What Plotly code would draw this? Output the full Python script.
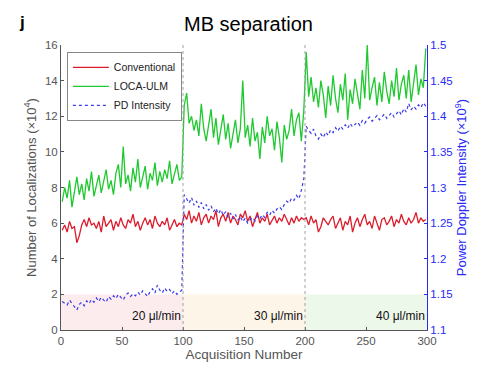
import plotly.graph_objects as go

acq = list(range(1, 300, 2))

conventional = [
    5.6,5.9,5.5,6.1,5.7,5.8,4.9,5.3,5.9,6.2,
    5.8,6.3,5.9,6.0,5.7,6.1,5.5,6.4,5.8,6.0,
    6.2,5.6,6.1,5.8,6.3,5.9,5.7,6.2,6.0,6.5,
    5.8,6.1,5.6,6.0,6.3,5.9,6.2,5.7,6.4,6.0,
    5.8,6.1,5.9,6.3,5.6,5.9,6.2,5.8,6.0,5.9,
    6.5,6.2,6.7,6.0,6.4,6.1,6.6,5.9,6.3,6.5,
    6.0,6.4,6.2,6.7,5.8,6.3,6.5,6.1,6.6,6.0,
    6.4,6.2,5.9,6.5,6.3,6.7,6.1,6.4,5.8,6.2,
    6.6,6.0,6.3,6.1,6.5,5.9,6.2,6.4,6.0,6.3,
    6.1,6.5,6.2,5.9,6.3,6.0,6.4,6.1,6.3,6.2,
    6.3,5.9,6.4,6.0,6.2,5.5,5.8,6.3,6.1,5.9,
    6.2,6.4,5.7,6.0,6.3,5.6,6.1,5.9,6.4,5.5,
    6.0,6.3,5.8,6.2,6.5,5.9,6.1,5.7,6.4,6.0,
    5.6,6.2,6.3,5.9,6.1,6.4,5.8,6.2,6.0,6.5,
    6.1,5.9,6.3,6.0,6.2,6.6,6.0,6.3,6.1,6.2,
]

loca_ulm = [
    7.2,8.0,7.4,8.4,6.9,7.8,8.6,7.6,8.2,7.3,
    8.5,7.8,8.9,7.5,8.1,8.7,7.7,8.3,9.0,7.9,
    8.4,7.6,8.8,9.3,8.0,10.3,8.2,8.7,7.8,9.1,
    8.3,9.6,8.0,8.6,9.2,7.9,8.8,8.4,9.4,8.1,
    8.9,8.3,9.0,8.5,9.5,8.2,8.8,9.3,8.4,8.6,
    12.6,13.3,11.6,12.0,11.2,11.8,10.9,12.7,11.3,10.6,
    11.5,12.4,10.8,11.9,10.4,11.2,12.1,10.7,11.6,10.2,
    11.0,11.8,10.5,11.3,14.0,10.8,11.5,10.3,11.9,10.6,
    11.1,9.6,11.4,10.5,12.0,10.9,11.3,10.1,11.7,10.8,
    9.4,11.5,10.7,11.2,12.4,10.9,11.8,12.2,10.6,12.3,
    15.6,13.1,14.2,12.8,13.6,12.5,14.0,13.2,11.9,13.7,
    12.6,14.3,13.0,12.2,13.8,12.9,14.4,11.8,13.5,12.7,
    14.1,13.3,12.4,14.6,13.0,16.0,12.9,13.6,14.2,12.6,
    13.9,12.8,14.5,13.4,12.7,14.0,13.1,14.7,12.9,13.8,
    14.3,13.0,14.6,12.8,13.9,14.9,13.2,14.1,13.6,15.8,
]

pd_intensity = [
    1.140,1.138,1.135,1.142,1.137,1.132,1.128,1.136,1.139,1.134,
    1.141,1.137,1.143,1.139,1.145,1.140,1.146,1.142,1.139,1.147,
    1.143,1.148,1.144,1.150,1.146,1.142,1.149,1.152,1.147,1.151,
    1.148,1.153,1.149,1.155,1.151,1.147,1.154,1.158,1.152,1.163,
    1.156,1.152,1.159,1.154,1.157,1.151,1.155,1.150,1.153,1.156,
    1.290,1.284,1.278,1.286,1.275,1.281,1.272,1.279,1.270,1.276,
    1.268,1.274,1.266,1.271,1.263,1.269,1.261,1.266,1.258,1.264,
    1.256,1.262,1.254,1.259,1.252,1.257,1.250,1.255,1.258,1.253,
    1.260,1.256,1.262,1.258,1.265,1.261,1.268,1.264,1.270,1.273,
    1.269,1.276,1.281,1.278,1.285,1.282,1.289,1.284,1.296,1.312,
    1.386,1.380,1.376,1.382,1.372,1.368,1.375,1.370,1.378,1.373,
    1.381,1.377,1.384,1.379,1.386,1.382,1.388,1.383,1.390,1.385,
    1.389,1.392,1.387,1.394,1.390,1.396,1.399,1.393,1.397,1.401,
    1.395,1.399,1.403,1.397,1.401,1.405,1.399,1.404,1.408,1.402,
    1.411,1.406,1.418,1.409,1.414,1.410,1.416,1.412,1.419,1.414,
]

flow_labels = ["20 \u03bcl/min", "30 \u03bcl/min", "40 \u03bcl/min"]
flow_ends = [100, 200, 300]
flow_starts = [0, 100, 200]
flow_colors = ["#fcecee", "#fdf5e8", "#ecf8ea"]

FONT = "Liberation Sans, Arial, sans-serif"
GRAY = "#555555"
BLUE = "#2a2af5"

fig = go.Figure()

fig.add_trace(go.Scatter(x=acq, y=conventional, name="Conventional", mode="lines",
                         line=dict(color="#dc1c2c", width=1.3)))
fig.add_trace(go.Scatter(x=acq, y=loca_ulm, name="LOCA-ULM", mode="lines",
                         line=dict(color="#1fc92f", width=1.3)))
fig.add_trace(go.Scatter(x=acq, y=pd_intensity, name="PD Intensity", mode="lines",
                         line=dict(color="#3a3ae8", width=1.2, dash="dot"), yaxis="y2"))

shapes = []
for s, e, c in zip(flow_starts, flow_ends, flow_colors):
    shapes.append(dict(type="rect", xref="x", yref="y", x0=s, x1=e, y0=0, y1=2,
                       fillcolor=c, line=dict(width=0), layer="below"))
for xv in [100, 200]:
    shapes.append(dict(type="line", xref="x", yref="y", x0=xv, x1=xv, y0=0, y1=16,
                       line=dict(color="#a0a0a0", width=1, dash="dot"), layer="above"))

annotations = []
for lab, e in zip(flow_labels, flow_ends):
    annotations.append(dict(x=e, y=0.8, xref="x", yref="y", text=lab, showarrow=False,
                            xanchor="right", yanchor="middle",
                            font=dict(family=FONT, size=12, color="#111111")))
annotations.append(dict(x=(22 - 61) / 366, y=(332 - 22) / 287, xref="paper", yref="paper",
                        text="<b>j</b>", showarrow=False, xanchor="center", yanchor="middle",
                        font=dict(family=FONT, size=17, color="black")))
annotations.append(dict(x=(248 - 61) / 366, y=(332 - 24) / 287, xref="paper", yref="paper",
                        text="MB separation", showarrow=False, xanchor="center", yanchor="middle",
                        font=dict(family=FONT, size=20, color="black")))

fig.update_layout(
    width=487, height=370,
    margin=dict(l=61, r=60, t=45, b=38),
    paper_bgcolor="white", plot_bgcolor="white",
    font=dict(family=FONT, size=11, color=GRAY),
    shapes=shapes, annotations=annotations,
    showlegend=True,
    legend=dict(x=0.016, y=0.976, xanchor="left", yanchor="top",
                bgcolor="white", bordercolor="#888888", borderwidth=1,
                font=dict(family=FONT, size=10.5, color="#222222"),
                tracegroupgap=0, itemwidth=36),
    xaxis=dict(range=[0, 300], tickvals=[0, 50, 100, 150, 200, 250, 300],
               ticks="inside", ticklen=3, tickcolor=GRAY, showline=True, linecolor=GRAY,
               linewidth=1, showgrid=False, zeroline=False,
               title=dict(text="Acquisition Number", font=dict(size=13.5, color=GRAY), standoff=2),
               tickfont=dict(size=11.5, color=GRAY)),
    yaxis=dict(range=[0, 16], tickvals=list(range(0, 17, 2)),
               ticks="inside", ticklen=3, tickcolor=GRAY, showline=True, linecolor=GRAY,
               linewidth=1, showgrid=False, zeroline=False,
               title=dict(text="Number of Localizations (\u00d710<sup>4</sup>)",
                          font=dict(size=13, color=GRAY), standoff=5),
               tickfont=dict(size=11.5, color=GRAY)),
    yaxis2=dict(range=[1.1, 1.5], tickvals=[1.1, 1.15, 1.2, 1.25, 1.3, 1.35, 1.4, 1.45, 1.5],
                overlaying="y", side="right", anchor="x",
                ticks="inside", ticklen=3, tickcolor=BLUE, showline=True, linecolor=BLUE,
                linewidth=1, showgrid=False, zeroline=False,
                title=dict(text="Power Doppler Intensity (\u00d710<sup>9</sup>)",
                           font=dict(size=13, color=BLUE), standoff=5),
                tickfont=dict(size=11.5, color=BLUE)),
)

fig.write_html("out.html")
